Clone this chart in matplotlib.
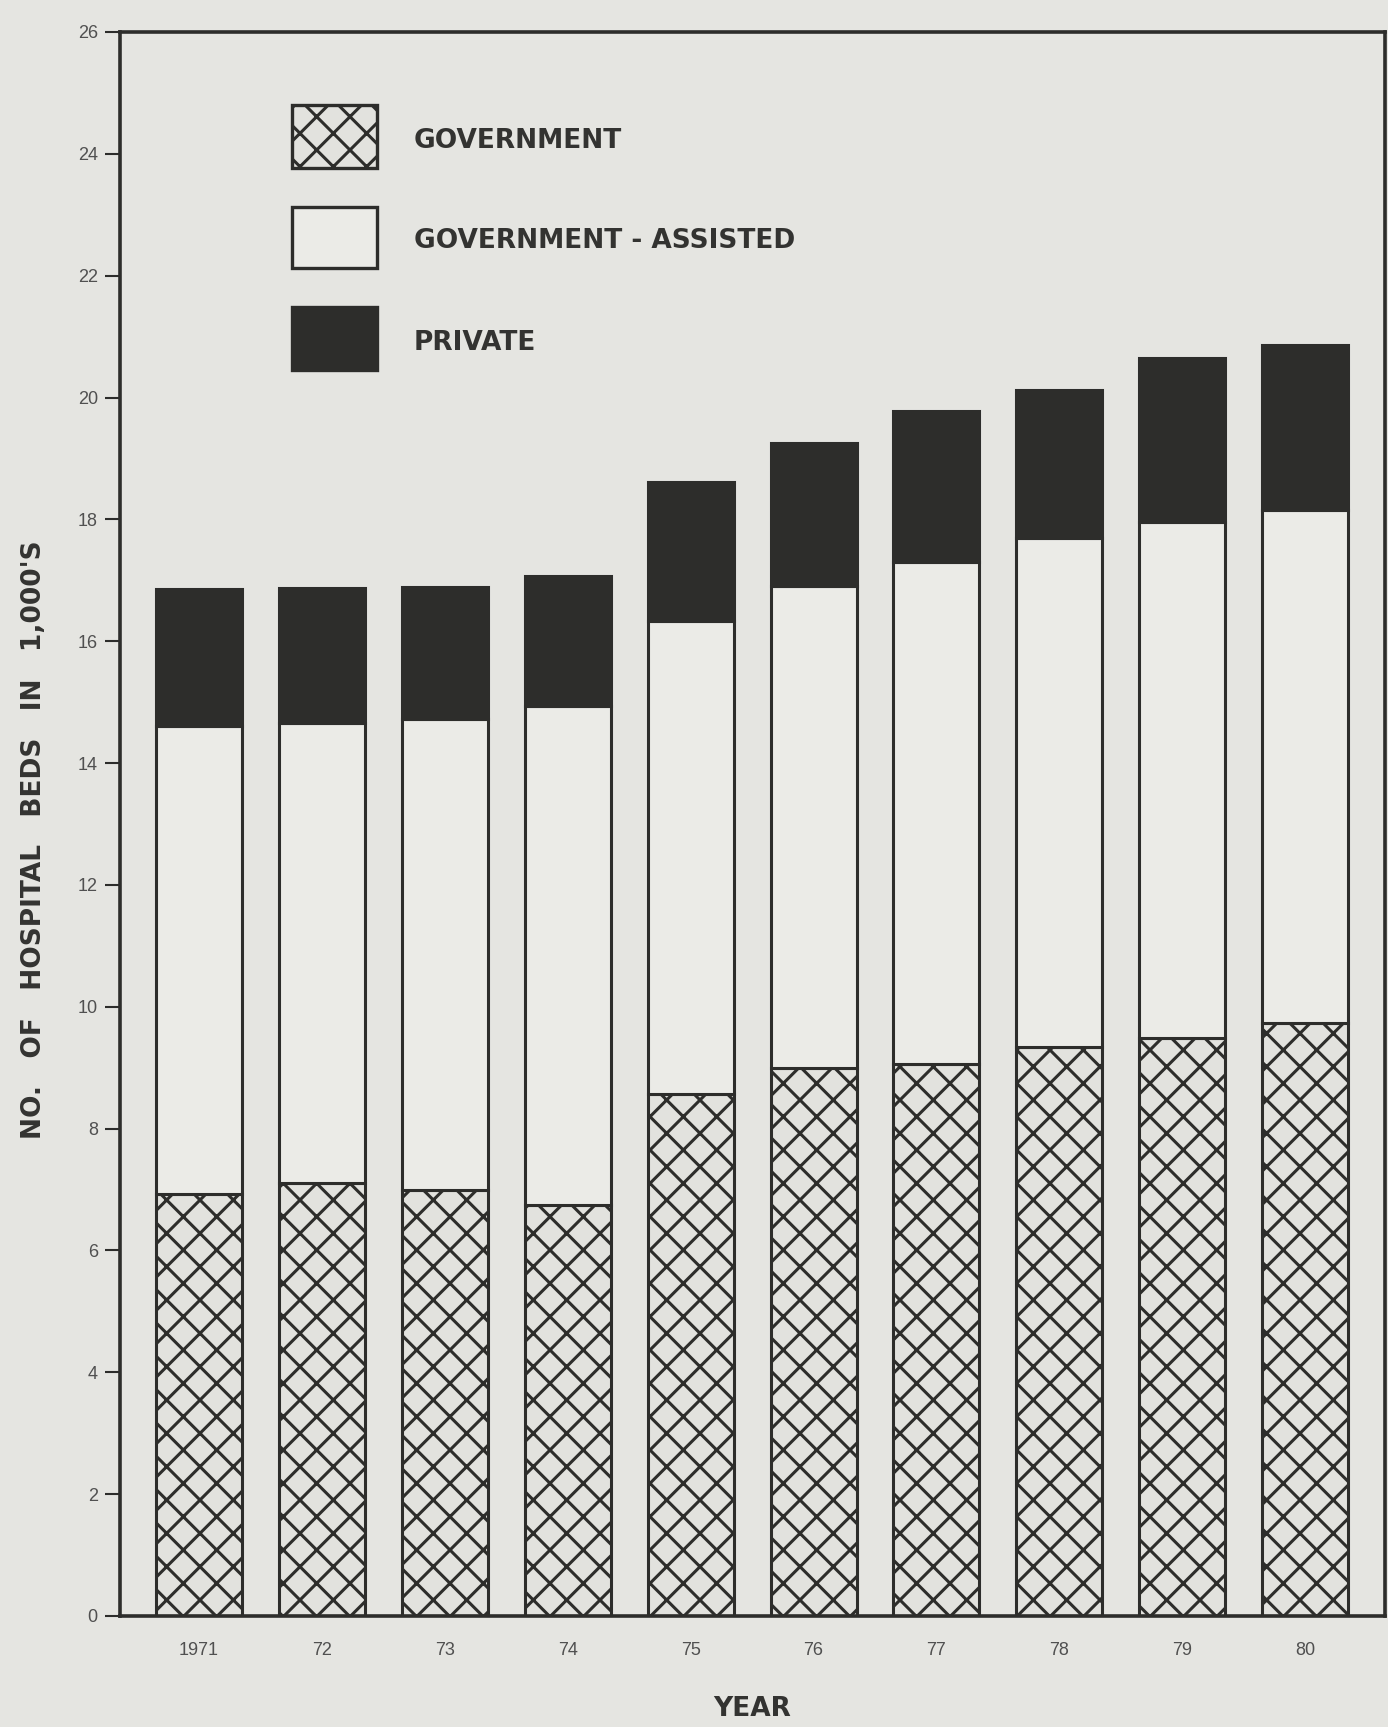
import numpy as np
import matplotlib
matplotlib.use("Agg")
import matplotlib.pyplot as plt
from matplotlib.patches import Rectangle

# ---- data (thousands of hospital beds) ----
years = ["1971", "72", "73", "74", "75", "76", "77", "78", "79", "80"]
government = [6.93, 7.10, 7.00, 6.75, 8.57, 9.00, 9.06, 9.34, 9.48, 9.73]
gov_assisted = [7.68, 7.56, 7.72, 8.18, 7.77, 7.90, 8.24, 8.36, 8.48, 8.42]
private = [2.24, 2.21, 2.17, 2.14, 2.28, 2.36, 2.48, 2.42, 2.69, 2.71]
yticks = list(range(0, 27, 2))
series_labels = ["GOVERNMENT", "GOVERNMENT - ASSISTED", "PRIVATE"]

paper = "#e5e5e1"
light = "#ebebe7"
hatchbg = "#e2e2de"
dark = "#2d2d2b"
tickgray = "#505050"
textdark = "#333331"

plt.rcParams['hatch.linewidth'] = 2.2

W, H = 1388, 1727
fig = plt.figure(figsize=(W / 100, H / 100), dpi=100, facecolor=paper)
L, R, T, B = 120, 1385, 32, 1616
ax = fig.add_axes([L / W, 1 - B / H, (R - L) / W, (B - T) / H])
ax.set_facecolor(paper)

x = np.arange(len(years))
g = np.array(government)
a = np.array(gov_assisted)
p = np.array(private)
width = 0.70

ax.bar(x, g, width, color=hatchbg, edgecolor=dark, hatch='x', linewidth=2.2)
ax.bar(x, a, width, bottom=g, color=light, edgecolor=dark, linewidth=2.2)
ax.bar(x, p, width, bottom=g + a, color=dark, edgecolor=dark, linewidth=2.2)

ax.set_xlim(-0.643, 9.65)
ax.set_ylim(0, 26)

for s in ax.spines.values():
    s.set_linewidth(2.6)
    s.set_color(dark)

ax.set_yticks(yticks)
ax.set_yticklabels([str(v) for v in yticks], family="Liberation Sans", fontsize=13, color=tickgray)
ax.set_xticks(x)
ax.set_xticklabels(years, family="Liberation Sans", fontsize=13, color=tickgray)
ax.tick_params(axis='y', direction='out', length=11, width=1.5, color=dark, pad=5)
ax.tick_params(axis='x', length=0, pad=19)

lab_font = dict(family="DejaVu Sans", weight="bold", color=textdark)
ax.set_xlabel("YEAR", fontsize=19, labelpad=26, **lab_font)
ax.set_ylabel("NO.   OF   HOSPITAL   BEDS   IN   1,000'S", fontsize=19, **lab_font)
ax.yaxis.set_label_coords(-(L - 47) / (R - L), (B - 840) / (B - T))

# ---- legend drawn as patches in figure pixel space ----
def fx(px):
    return px / W

def fy(py):
    return 1 - py / H

boxes = [(105, 168), (207, 268), (307, 370)]
styles = [dict(facecolor=hatchbg, hatch='x'), dict(facecolor=light), dict(facecolor=dark)]
for (y0, y1), st, lab in zip(boxes, styles, series_labels):
    rect = Rectangle((fx(292), fy(y1)), fx(377) - fx(292), fy(y0) - fy(y1),
                     transform=fig.transFigure, edgecolor=dark, linewidth=2.4, **st)
    fig.patches.append(rect)
    fig.text(fx(414), fy((y0 + y1) / 2 + 4), lab, fontsize=19, va='center', ha='left', **lab_font)

fig.savefig("out.png", dpi=100, facecolor=paper)
